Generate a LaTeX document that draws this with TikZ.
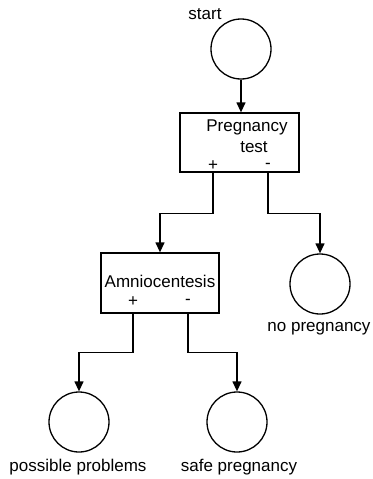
\documentclass[tikz,border=0pt]{standalone}
\usepackage{fontspec}
\setmainfont{Liberation Sans}
\usetikzlibrary{arrows.meta,calc}
\begin{document}
\begin{tikzpicture}[x=1pt,y=-1pt,
  line width=1.3pt,
  every node/.style={font=\fontsize{17}{20}\selectfont},
  state/.style={draw,circle,minimum size=60pt,inner sep=0pt},
  testbox/.style={draw,rectangle,inner sep=0pt},
  lbl/.style={inner sep=0pt,anchor=center},
  flow/.style={-{Triangle[length=10pt,width=9pt]}}
]
\useasboundingbox (0,0) rectangle (372,479);

% start state
\node[state] (start) at (241,49) {};
\node[lbl] (startlbl) at (205,14) {start};

% pregnancy test
\node[testbox,minimum width=119pt,minimum height=59pt] (preg) at (239.5,142.5) {};
\node[lbl] (pregA) at (247,127) {Pregnancy};
\node[lbl] (pregB) at (254,147) {test};
\node[lbl] (pplus) at (213,166) {+};
\node[lbl] (pminus) at (268,166) {-};

% amniocentesis
\node[testbox,minimum width=118pt,minimum height=60pt] (amnio) at (160,283) {};
\node[lbl] (amnioA) at (160,281) {Amniocentesis};
\node[lbl] (aplus) at (133,302) {+};
\node[lbl] (aminus) at (188,302) {-};

% outcomes
\node[state] (nopreg) at (320,284) {};
\node[lbl] (noprelbl) at (319,329) {no pregnancy};
\node[state] (prob) at (79,422) {};
\node[lbl] (problbl) at (78,467) {possible problems};
\node[state] (safe) at (237,422) {};
\node[lbl] (safelbl) at (239,467) {safe pregnancy};

% connectors
\draw[flow] (start.south) -- (start.south |- preg.north);
\draw[flow] (pplus |- preg.south) -- ++(0,41) -| (amnio.north);
\draw[flow] (pminus |- preg.south) -- ++(0,41) -| (nopreg.north);
\draw[flow] (aplus |- amnio.south) -- ++(0,39) -| (prob.north);
\draw[flow] (aminus |- amnio.south) -- ++(0,39) -| (safe.north);
\end{tikzpicture}
\end{document}
